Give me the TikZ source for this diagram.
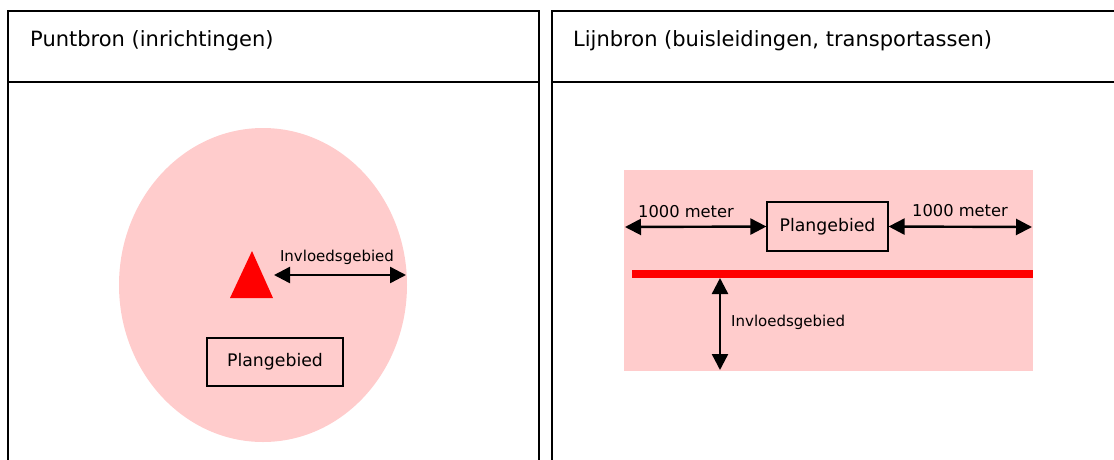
\documentclass[tikz,border=0pt]{standalone}
\usepackage{fontspec}
\setmainfont{DejaVu Sans}
\usetikzlibrary{arrows.meta,positioning}

\definecolor{zonepink}{RGB}{255,204,204}
\definecolor{bronred}{RGB}{255,0,0}

\begin{document}
\begin{tikzpicture}[x=1pt,y=-1pt,
    kader/.style={line width=1.6pt},
    kop/.style={anchor=west,font=\fontsize{21}{24}\selectfont,inner sep=0pt},
    planbox/.style={draw,line width=1.2pt,minimum width=136pt,minimum height=48pt,
      font=\fontsize{17.3}{20}\selectfont},
    maat/.style={line width=2.4pt,{Triangle[length=16pt,width=16pt]}-{Triangle[length=16pt,width=16pt]}},
    klein/.style={font=\fontsize{15}{17}\selectfont,inner sep=0pt},
    afstand/.style={font=\fontsize{16.3}{19}\selectfont,inner sep=0pt}]
  \useasboundingbox (0,0) rectangle (1114,459);
  % Tabellen
  \draw[kader] (8,470) -- (8,11) -- (539,11) -- (539,470);
  \draw[kader] (8,82) -- (539,82);
  \draw[kader] (552,470) -- (552,11) -- (1120,11);
  \draw[kader] (552,82) -- (1120,82);
  \node[kop] (kopPunt) at (30,41) {Puntbron (inrichtingen)};
  \node[kop] (kopLijn) at (573,41) {Lijnbron (buisleidingen, transportassen)};
  % Puntbron
  \fill[zonepink] (263,285) ellipse [x radius=144, y radius=157];
  \fill[bronred] (252,251) -- (273,298) -- (230,298) -- cycle;
  \coordinate (bron) at (274,275);
  \coordinate (rand) at (406,275);
  \draw[maat] (bron) -- (rand);
  \node[klein] (invPunt) at (337,257) {Invloedsgebied};
  \node[planbox] (planPunt) at (275,362) {Plangebied};
  % Lijnbron
  \fill[zonepink] (624,170) rectangle (1033,371);
  \node[planbox,minimum width=121pt,minimum height=49pt] (planLijn) at (827.5,226.5) {Plangebied};
  \coordinate (links) at (625,227);
  \coordinate (rechts) at (1032,227);
  \draw[maat] (links) -- (planLijn.west);
  \draw[maat] (planLijn.east) -- (rechts);
  \node[afstand] (maatL) at (686,212) {1000 meter};
  \node[afstand] (maatR) at (960,211) {1000 meter};
  \draw[bronred,line width=8pt] (632,274) -- (1033,274);
  \coordinate (leiding) at (720,278);
  \coordinate (onder) at (720,370);
  \draw[maat] (leiding) -- (onder);
  \node[klein,anchor=west] (invLijn) at (731,322) {Invloedsgebied};
\end{tikzpicture}
\end{document}
